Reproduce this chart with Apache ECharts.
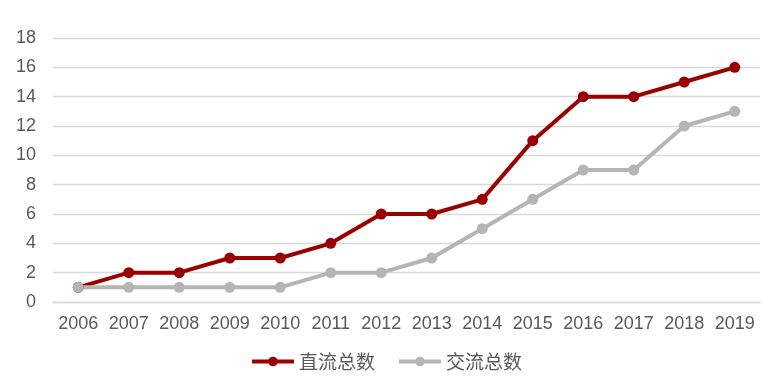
<!DOCTYPE html>
<html>
<head>
<meta charset="UTF-8">
<title>直流交流总数</title>
<script src="https://cdn.jsdelivr.net/npm/echarts@6/dist/echarts.min.js"></script>
</head>
<body style="margin:0">
<div id="main" style="width:772px;height:376px;"></div>
<script type="text/javascript">
var years = ['2006','2007','2008','2009','2010','2011','2012','2013','2014','2015','2016','2017','2018','2019'];
var dcTotal = [1,2,2,3,3,4,6,6,7,11,14,14,15,16];
var acTotal = [1,1,1,1,1,2,2,3,5,7,9,9,12,13];

var myChart = echarts.init(document.getElementById('main'));
var option = {
    animation: false,
    grid: {left: 53, right: 12, top: 38, bottom: 74},
    legend: {
        data: ['直流总数', '交流总数'],
        bottom: 0,
        itemWidth: 42,
        itemHeight: 12,
        itemGap: 22,
        lineStyle: {width: 4},
        textStyle: {fontSize: 19, color: '#595959', fontFamily: 'Noto Sans CJK SC'}
    },
    xAxis: {
        type: 'category',
        data: years,
        boundaryGap: true,
        axisLine: {lineStyle: {color: '#d9d9d9', width: 1.3}},
        axisTick: {show: false},
        axisLabel: {interval: 0, fontSize: 18, color: '#595959', margin: 13, fontFamily: '"Liberation Sans"'}
    },
    yAxis: {
        type: 'value',
        min: 0,
        max: 18,
        interval: 2,
        axisLine: {show: false},
        axisTick: {show: false},
        splitLine: {lineStyle: {color: '#d9d9d9', width: 1.3}},
        axisLabel: {fontSize: 18, color: '#595959', margin: 17, fontFamily: '"Liberation Sans"'}
    },
    series: [
        {
            name: '直流总数',
            type: 'line',
            data: dcTotal,
            symbol: 'circle',
            symbolSize: 11,
            color: '#990000',
            lineStyle: {width: 4}
        },
        {
            name: '交流总数',
            type: 'line',
            data: acTotal,
            symbol: 'circle',
            symbolSize: 11,
            color: '#b5b5b5',
            lineStyle: {width: 4}
        }
    ]
};
myChart.setOption(option);
</script>
</body>
</html>
